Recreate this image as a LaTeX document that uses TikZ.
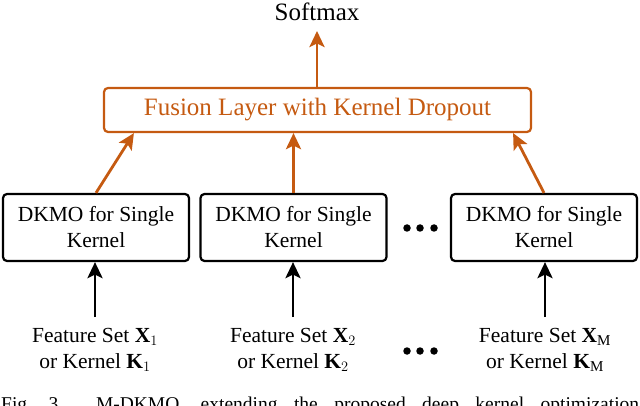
\documentclass[tikz,border=0pt]{standalone}
\usepackage{fontspec}
\setmainfont{Liberation Serif}
\usetikzlibrary{arrows.meta}
\definecolor{fuseor}{RGB}{197,90,17}
\begin{document}
\begin{tikzpicture}[x=1pt,y=-1pt,
  dkbox/.style={draw=black,line width=2.2pt,rounded corners=4pt,minimum width=186pt,minimum height=67pt,align=center,inner sep=0pt,font=\fontsize{21.5}{26}\selectfont},
  fusebox/.style={draw=fuseor,line width=2.2pt,rounded corners=4pt,minimum width=427pt,minimum height=44pt,inner sep=0pt,text=fuseor,font=\fontsize{25}{30}\selectfont},
  lbl/.style={align=center,inner sep=0pt,font=\fontsize{21.5}{26}\selectfont},
  oarr/.style={draw=fuseor,line width=2.8pt,-{Stealth[length=16pt,width=15pt,inset=3.5pt]}},
  barr/.style={draw=black,line width=2.8pt,-{Stealth[length=16pt,width=15pt,inset=3.5pt]}},
  dot/.style={circle,fill=black,inner sep=0pt,minimum size=7.5pt}]
\useasboundingbox (0,0) rectangle (640,406);
\node[lbl,font=\fontsize{25}{30}\selectfont] (soft) at (317,12) {Softmax};
\node[fusebox] (fuse) at (317.5,110) {Fusion Layer with Kernel Dropout};
\node[dkbox] (d1) at (96,227.5) {DKMO for Single\\Kernel};
\node[dkbox] (d2) at (293.5,227.5) {DKMO for Single\\Kernel};
\node[dkbox] (d3) at (544,227.5) {DKMO for Single\\Kernel};
\node[lbl] (f1) at (95,350) {Feature Set $\mathbf{X}_1$\\or Kernel $\mathbf{K}_1$};
\node[lbl] (f2) at (293,350) {Feature Set $\mathbf{X}_2$\\or Kernel $\mathbf{K}_2$};
\node[lbl] (f3) at (545,350) {Feature Set $\mathbf{X}_\mathrm{M}$\\or Kernel $\mathbf{K}_\mathrm{M}$};
\node[dot] (a1) at (407,228) {};
\node[dot] (a2) at (420,228) {};
\node[dot] (a3) at (434,228) {};
\node[dot] (b1) at (407,351) {};
\node[dot] (b2) at (420,351) {};
\node[dot] (b3) at (434,351) {};
\coordinate (in1) at (95,317);
\coordinate (in2) at (293,317);
\coordinate (in3) at (545,317);
\draw[barr] (in1) -- (in1 |- d1.south);
\draw[barr] (in2) -- (in2 |- d2.south);
\draw[barr] (in3) -- (in3 |- d3.south);
\coordinate (t1) at ([xshift=31pt]fuse.south west);
\coordinate (t3) at ([xshift=-19pt]fuse.south east);
\draw[oarr] (d1.north) -- (t1);
\draw[oarr] (d2.north) -- (d2.north |- fuse.south);
\draw[oarr] (d3.north) -- (t3);
\coordinate (st) at (317,31);
\draw[oarr] (fuse.north -| st) -- (st);
\begin{scope}
\clip (0,380) rectangle (640,406);
\node[anchor=base west,inner sep=0pt,font=\fontsize{19.5}{22}\selectfont] (cap) at (1,410) {\makebox[638pt][s]{Fig.\ \ 3.\ \ \ \ M-DKMO,\ \ extending\ \ the\ \ proposed\ \ deep\ \ kernel\ \ optimization}};
\end{scope}
\end{tikzpicture}
\end{document}
